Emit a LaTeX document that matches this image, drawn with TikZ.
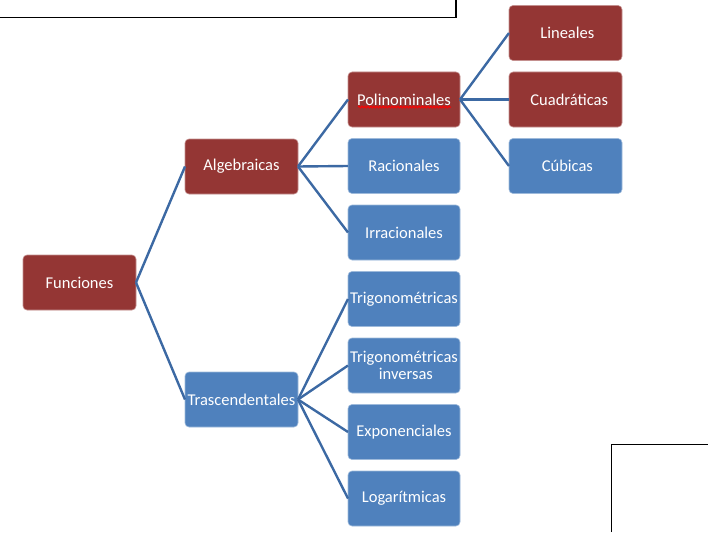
\documentclass[tikz,border=0pt]{standalone}
\usepackage{fontspec}
\setmainfont{Carlito}
\usetikzlibrary{calc,positioning,decorations.pathmorphing}

\definecolor{boxred}{HTML}{943634}
\definecolor{boxblue}{HTML}{4F81BD}
\definecolor{linkblue}{HTML}{3C69A3}

\tikzset{
  box/.style={rectangle, rounded corners=4pt, fill=#1, draw=#1!55!white, line width=0.6pt,
    minimum width=113pt, minimum height=55pt, inner sep=0pt, outer sep=0pt,
    text=white, align=center, font=\fontsize{16.5}{17.5}\selectfont},
  redbox/.style={box=boxred},
  bluebox/.style={box=boxblue},
  link/.style={draw=linkblue, line width=2.4pt}
}

\begin{document}
\begin{tikzpicture}[x=1pt, y=-1pt]
  \useasboundingbox (0,0) rectangle (708,532);

  \node[redbox](Fun) at (79.5,282.5){Funciones};
  \node[redbox](Alg) at (241.5,166.5){Algebraicas};
  \node[bluebox](Tra) at (241.5,399.5){Trascendentales};

  \node[redbox, minimum width=112pt](Pol) at (404,99.5){Polinominales};
  \node[bluebox, minimum width=112pt, below=11.5pt of Pol](Rac){Racionales};
  \node[bluebox, minimum width=112pt, below=11.5pt of Rac](Irr){Irracionales};
  \node[bluebox, minimum width=112pt, below=11.5pt of Irr](Tri){Trigonométricas};
  \node[bluebox, minimum width=112pt, below=11.5pt of Tri](TrI){Trigonométricas\\ \ inversas};
  \node[bluebox, minimum width=112pt, below=11.5pt of TrI](Exp){Exponenciales};
  \node[bluebox, minimum width=112pt, below=11.5pt of Exp](Log){Logarítmicas};

  \node[redbox, right=49pt of Pol](Cua){\ \ Cuadráticas};
  \node[redbox, above=11.5pt of Cua](Lin){\ Lineales};
  \node[bluebox, below=11.5pt of Cua](Cub){\ Cúbicas};

  \path[link]
  (Fun.east) edge (Alg.west)
  (Fun.east) edge (Tra.west)
  (Alg.east) edge (Pol.west)
  (Alg.east) edge (Rac.west)
  (Alg.east) edge (Irr.west)
  (Tra.east) edge (Tri.west)
  (Tra.east) edge (TrI.west)
  (Tra.east) edge (Exp.west)
  (Tra.east) edge (Log.west)
  (Pol.east) edge (Lin.west)
  (Pol.east) edge (Cua.west)
  (Pol.east) edge (Cub.west);

  % spell-check underline
  \draw[red, line width=1pt, decorate, decoration={snake, amplitude=0.9pt, segment length=3pt}]
    ($(Pol.center)+(-46,7.5)$) -- ($(Pol.center)+(47,7.5)$);

  % frame edges
  \draw[line width=1.3pt] (0,17.5) -- (456,17.5) -- (456,0);
  \draw[line width=1.3pt] (611.5,532) -- (611.5,444.5) -- (708,444.5);
\end{tikzpicture}
\end{document}
